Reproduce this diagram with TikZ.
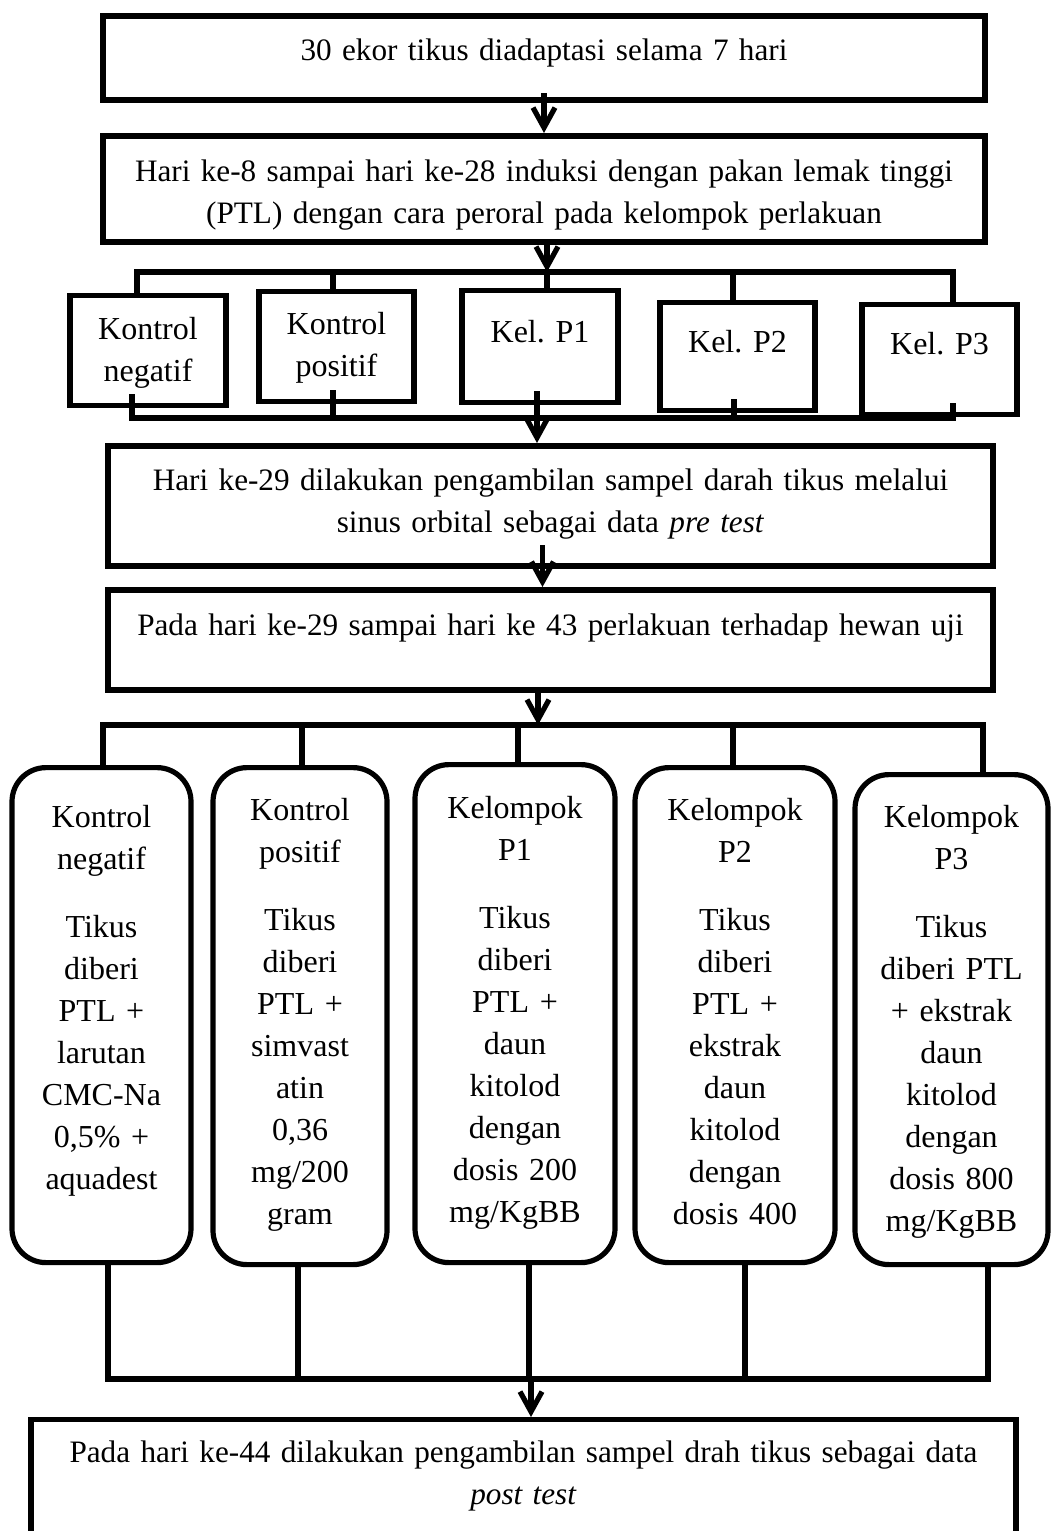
\documentclass[tikz,border=0pt]{standalone}
\usepackage{fontspec}
\setmainfont{Liberation Serif}
\usetikzlibrary{arrows.meta}
\newcommand{\flowfont}{\fontsize{16pt}{21pt}\selectfont\frenchspacing}
\newcommand{\longfont}{\fontsize{15.6pt}{21pt}\selectfont\frenchspacing}

\begin{document}
\begin{tikzpicture}[x=0.5pt,y=-0.5pt,
	every node/.style={inner sep=0pt,align=center,font=\flowfont,anchor=north},
	bigbox/.style={draw,line width=3pt,minimum width=#1,text width=#1-14pt,font=\longfont},
	smallbox/.style={draw,line width=2.6pt,minimum width=#1,text width=#1-8pt},
	roundbox/.style={draw,line width=2.6pt,rounded corners=17pt,minimum width=#1,text width=#1-6pt},
	link/.style={line width=2.6pt,line cap=rect},
	stub/.style={link,shorten <=-6pt},
	flow/.style={line width=2.6pt,-{Straight Barb[length=10pt,width=11pt]}},
	]
	\useasboundingbox (0,0) rectangle (1059,1531);

	% the first steps
	\node[bigbox=441pt,text height=22.5pt,text depth=19.5pt] (adapt) at (544,13)
		{30 ekor tikus diadaptasi selama 7 hari};
	\node[bigbox=441pt,text height=22.5pt,text depth=30.5pt] (induksi) at (544,133)
		{Hari ke-8 sampai hari ke-28 induksi dengan pakan lemak tinggi\\
		(PTL) dengan cara peroral pada kelompok perlakuan};

	% the groups after induction
	\node[smallbox=78pt,text height=22pt,text depth=33pt] (kneg1) at (148,293) {Kontrol\\ negatif};
	\node[smallbox=77.5pt,text height=21.5pt,text depth=33.5pt] (kpos1) at (336.5,289) {Kontrol\\ positif};
	\node[smallbox=78pt,text height=26pt,text depth=30pt] (p1a) at (540,288) {Kel. P1};
	\node[smallbox=77.5pt,text height=25pt,text depth=29pt] (p2a) at (737.5,300) {Kel. P2};
	\node[smallbox=77.5pt,text height=25pt,text depth=30pt] (p3a) at (939.5,302) {Kel. P3};

	% pre test and treatment
	\node[bigbox=442.5pt,text height=22pt,text depth=38pt] (sampel1) at (550.5,443)
		{Hari ke-29 dilakukan pengambilan sampel darah tikus melalui\\
		sinus orbital sebagai data \textit{pre test}};
	\node[bigbox=442.5pt,text height=22.5pt,text depth=27.5pt] (perlakuan) at (550.5,587)
		{Pada hari ke-29 sampai hari ke 43 perlakuan terhadap hewan uji};

	% the treated groups
	\node[roundbox=89.5pt,text height=30pt,text depth=217.5pt] (kneg2) at (101.5,765)
		{Kontrol\\ negatif\\[13pt] Tikus\\ diberi\\ PTL +\\ larutan\\ CMC-Na\\ 0,5\% +\\ aquadest};
	\node[roundbox=87pt,text height=26.5pt,text depth=222pt] (kpos2) at (300,765)
		{Kontrol\\ positif\\[13pt] Tikus\\ diberi\\ PTL +\\ simvast\\ atin\\ 0,36\\ mg/200\\ gram};
	\node[roundbox=100pt,text height=27pt,text depth=222pt] (p1b) at (515,762)
		{Kelompok\\ P1\\[13pt] Tikus\\ diberi\\ PTL +\\ daun\\ kitolod\\ dengan\\ dosis 200\\ mg/KgBB};
	\node[roundbox=100pt,text height=26.5pt,text depth=221pt] (p2b) at (735,765)
		{Kelompok\\ P2\\[13pt] Tikus\\ diberi\\ PTL +\\ ekstrak\\ daun\\ kitolod\\ dengan\\ dosis 400};
	\node[roundbox=96.5pt,text height=26.5pt,text depth=218.5pt] (p3b) at (951.5,772)
		{Kelompok\\ P3\\[13pt] Tikus\\ diberi PTL\\ + ekstrak\\ daun\\ kitolod\\ dengan\\ dosis 800\\ mg/KgBB};

	% post test
	\node[smallbox=492.5pt,text height=21.5pt,text depth=60pt,font=\longfont] (sampel2) at (523.5,1417)
		{Pada hari ke-44 dilakukan pengambilan sampel drah tikus sebagai data\\ \textit{post test}};

	% the bus lines
	\foreach \n/\x in {a/137,b/333,c/547,d/733,e/953}
		\coordinate (b1\n) at (\x,272);
	\foreach \n/\x in {a/132,b/333,c/537,d/734,e/953}
		\coordinate (b2\n) at (\x,418);
	\foreach \n/\x in {a/103,b/302,c/518,d/733,e/983,m/538}
		\coordinate (b3\n) at (\x,725);
	\foreach \n/\x in {a/108,b/298,c/529,d/745,e/988,m/531}
		\coordinate (b4\n) at (\x,1379);

	% the edges
	\draw[flow,shorten <=-5pt] (adapt.south) -- (induksi.north);
	\draw[flow] (b1c |- induksi.south) -- (b1c);
	\draw[link] (b1a) -- (b1e);
	\foreach \n/\nd in {a/kneg1,b/kpos1,c/p1a,d/p2a,e/p3a}
		\draw[link] (b1\n) -- (b1\n |- \nd.north);
	\foreach \n/\nd in {a/kneg1,b/kpos1,c/p1a,d/p2a,e/p3a}
		\draw[stub] (b2\n |- \nd.south) -- (b2\n);
	\draw[link] (b2a) -- (b2e);
	\draw[flow] (b2c) -- (b2c |- sampel1.north);
	\draw[flow,shorten <=-12pt] ([xshift=-4pt]sampel1.south) -- ([xshift=-4pt]perlakuan.north);
	\draw[flow] (b3m |- perlakuan.south) -- (b3m);
	\draw[link] (b3a) -- (b3e);
	\foreach \n/\nd in {a/kneg2,b/kpos2,c/p1b,d/p2b,e/p3b}
		\draw[link] (b3\n) -- (b3\n |- \nd.north);
	\foreach \n/\nd in {a/kneg2,b/kpos2,c/p1b,d/p2b,e/p3b}
		\draw[link] (b4\n |- \nd.south) -- (b4\n);
	\draw[link] (b4a) -- (b4e);
	\draw[flow] (b4m) -- (b4m |- sampel2.north);
\end{tikzpicture}
\end{document}
